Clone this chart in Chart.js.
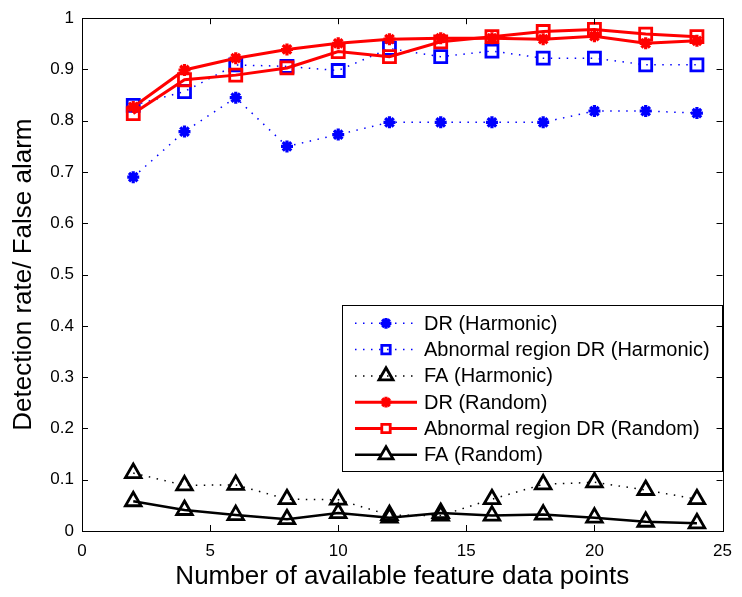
<!DOCTYPE html>
<html>
<head>
<meta charset="utf-8">
<script src="https://cdn.jsdelivr.net/npm/chart.js@4/dist/chart.umd.min.js"></script>
<style>
  html, body { margin: 0; padding: 0; background: #fff; }
  #wrap { width: 742px; height: 597px; }
</style>
</head>
<body>
<div id="wrap"><canvas id="chart" width="742" height="597"></canvas></div>
<script>
(function () {
  'use strict';

  // x: number of available feature data points
  var featurePoints = [2, 4, 6, 8, 10, 12, 14, 16, 18, 20, 22, 24];

  var drHarmonic  = [0.690, 0.779, 0.845, 0.750, 0.773, 0.797, 0.797, 0.797, 0.797, 0.819, 0.819, 0.815];
  var abnHarmonic = [0.830, 0.857, 0.909, 0.906, 0.898, 0.941, 0.925, 0.936, 0.922, 0.922, 0.909, 0.909];
  var faHarmonic  = [0.113, 0.089, 0.090, 0.062, 0.061, 0.031, 0.030, 0.062, 0.091, 0.095, 0.080, 0.062];
  var drRandom    = [0.827, 0.899, 0.922, 0.939, 0.951, 0.959, 0.961, 0.961, 0.959, 0.965, 0.951, 0.956];
  var abnRandom   = [0.814, 0.880, 0.889, 0.903, 0.935, 0.925, 0.954, 0.964, 0.974, 0.978, 0.969, 0.964];
  var faRandom    = [0.058, 0.041, 0.031, 0.023, 0.035, 0.026, 0.035, 0.030, 0.032, 0.026, 0.018, 0.015];

  var seriesLabels = [
    'DR (Harmonic)',
    'Abnormal region DR (Harmonic)',
    'FA (Harmonic)',
    'DR (Random)',
    'Abnormal region DR (Random)',
    'FA (Random)'
  ];

  var FONT = '"Liberation Sans", Arial, Helvetica, sans-serif';
  var BLUE = 'rgb(0, 0, 255)';
  var RED = 'rgb(255, 0, 0)';
  var BLACK = 'rgb(0, 0, 0)';
  var DOTS = [1.5, 6.5];

  function pts(values) {
    return values.map(function (v, i) { return { x: featurePoints[i], y: v }; });
  }

  function serie(label, values, color, style, radius, dashed, width, order) {
    return {
      label: label,
      data: pts(values),
      borderColor: color,
      backgroundColor: color,
      borderWidth: width,
      borderDash: dashed ? DOTS : [],
      pointStyle: style,
      pointRadius: radius,
      pointBorderColor: color,
      pointBackgroundColor: 'rgba(0,0,0,0)',
      pointBorderWidth: style === 'star' ? 3.2 : 2.8,
      tension: 0,
      fill: false,
      order: order
    };
  }

  var datasets = [
    serie(seriesLabels[0], drHarmonic, BLUE, 'star', 6, true, 1.5, 6),
    serie(seriesLabels[1], abnHarmonic, BLUE, 'rect', 8.5, true, 1.5, 5),
    serie(seriesLabels[2], faHarmonic, BLACK, 'triangle', 9, true, 1.5, 4),
    serie(seriesLabels[3], drRandom, RED, 'star', 6, false, 3, 3),
    serie(seriesLabels[4], abnRandom, RED, 'rect', 8.5, false, 3, 2),
    serie(seriesLabels[5], faRandom, BLACK, 'triangle', 9, false, 2.5, 1)
  ];

  // box frame with inward ticks on all four sides
  var frameTicks = {
    id: 'frameTicks',
    afterDraw: function (chart) {
      var ctx = chart.ctx, a = chart.chartArea;
      var sx = chart.scales.x, sy = chart.scales.y;
      var len = 6;
      ctx.save();
      ctx.strokeStyle = BLACK;
      ctx.lineWidth = 1;
      ctx.setLineDash([]);
      ctx.strokeRect(Math.round(a.left) + 0.5, Math.round(a.top) + 0.5,
        Math.round(a.right - a.left), Math.round(a.bottom - a.top));
      ctx.beginPath();
      sx.ticks.forEach(function (t) {
        var px = Math.round(sx.getPixelForValue(t.value)) + 0.5;
        ctx.moveTo(px, a.bottom); ctx.lineTo(px, a.bottom - len);
        ctx.moveTo(px, a.top); ctx.lineTo(px, a.top + len);
      });
      sy.ticks.forEach(function (t) {
        var py = Math.round(sy.getPixelForValue(t.value)) + 0.5;
        ctx.moveTo(a.left, py); ctx.lineTo(a.left + len, py);
        ctx.moveTo(a.right, py); ctx.lineTo(a.right - len, py);
      });
      ctx.stroke();
      ctx.restore();
    }
  };

  // legend box inside the axes, line sample + marker per series
  var boxLegend = {
    id: 'boxLegend',
    afterDatasetsDraw: function (chart) {
      var ctx = chart.ctx;
      var box = { x: 342, y: 305, w: 380, h: 166 };
      var rowH = 26.3, firstRow = 323.3;
      var lineX0 = 355, lineX1 = 417, textX = 424;
      ctx.save();
      ctx.fillStyle = '#fff';
      ctx.fillRect(box.x, box.y, box.w, box.h);
      ctx.strokeStyle = BLACK;
      ctx.lineWidth = 1;
      ctx.strokeRect(box.x + 0.5, box.y + 0.5, box.w, box.h);
      chart.data.datasets.forEach(function (ds, i) {
        var cy = firstRow + i * rowH;
        ctx.save();
        ctx.strokeStyle = ds.borderColor;
        ctx.lineWidth = ds.borderWidth;
        ctx.setLineDash(ds.borderDash);
        ctx.beginPath();
        ctx.moveTo(lineX0, cy);
        ctx.lineTo(lineX1, cy);
        ctx.stroke();
        ctx.setLineDash([]);
        ctx.fillStyle = 'rgba(0,0,0,0)';
        ctx.strokeStyle = ds.pointBorderColor;
        ctx.lineWidth = ds.pointBorderWidth;
        var mx = (lineX0 + lineX1) / 2;
        if (ds.pointStyle !== 'star' && !ds.borderDash.length) {
          // keep the marker open over a solid line
          ctx.fillStyle = '#fff';
        }
        Chart.helpers.drawPoint(ctx, {
          pointStyle: ds.pointStyle,
          radius: ds.pointStyle === 'rect' ? ds.pointRadius * 0.7 : ds.pointRadius * 0.9,
          rotation: 0,
          borderWidth: ds.pointBorderWidth
        }, mx, cy);
        ctx.restore();
        ctx.fillStyle = BLACK;
        ctx.font = '20px ' + FONT;
        ctx.textBaseline = 'middle';
        ctx.textAlign = 'left';
        ctx.fillText(ds.label, textX, cy + 1);
      });
      ctx.restore();
    }
  };

  var ctx = document.getElementById('chart').getContext('2d');
  new Chart(ctx, {
    type: 'line',
    data: { datasets: datasets },
    plugins: [frameTicks, boxLegend],
    options: {
      responsive: false,
      animation: false,
      layout: { padding: { top: 13, right: 14, left: 0, bottom: 0 } },
      plugins: {
        legend: { display: false },
        tooltip: { enabled: false }
      },
      scales: {
        x: {
          type: 'linear',
          min: 0,
          max: 25,
          afterFit: function (s) { s.height = 66; },
          grid: { display: false, drawTicks: false },
          border: { display: false },
          ticks: {
            stepSize: 5,
            padding: 10,
            color: BLACK,
            font: { family: FONT, size: 17 },
            maxRotation: 0
          },
          title: {
            display: true,
            text: 'Number of available feature data points',
            color: BLACK,
            font: { family: FONT, size: 26 },
            padding: { top: 0, bottom: 5 }
          }
        },
        y: {
          type: 'linear',
          min: 0,
          max: 1,
          afterFit: function (s) { s.width = 82; },
          grid: { display: false, drawTicks: false },
          border: { display: false },
          ticks: {
            stepSize: 0.1,
            padding: 8,
            color: BLACK,
            font: { family: FONT, size: 17 },
            callback: function (v) { return Math.round(v * 10) / 10; }
          },
          title: {
            display: true,
            text: 'Detection rate/ False alarm',
            color: BLACK,
            font: { family: FONT, size: 26 },
            padding: { top: 8, bottom: 0 }
          }
        }
      }
    }
  });
})();
</script>
</body>
</html>
